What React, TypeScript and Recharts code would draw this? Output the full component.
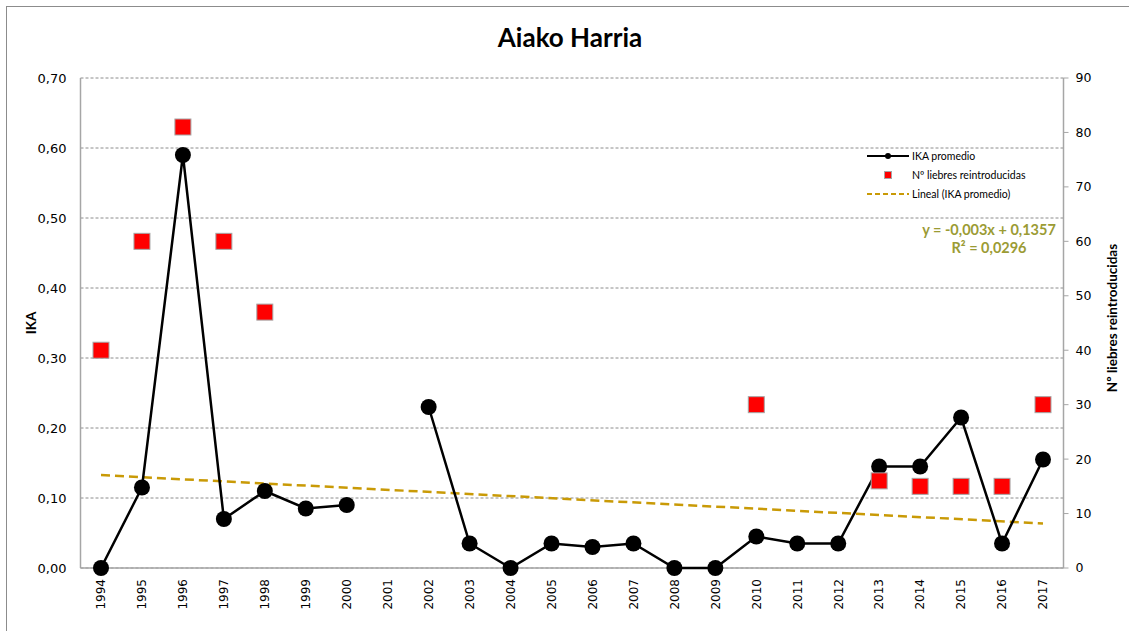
import React from 'react';
import { ComposedChart, Line, XAxis, YAxis, CartesianGrid, Legend } from 'recharts';

const years = ['1994','1995','1996','1997','1998','1999','2000','2001','2002','2003','2004','2005','2006','2007','2008','2009','2010','2011','2012','2013','2014','2015','2016','2017'];
const ika: (number | null)[] = [0, 0.115, 0.59, 0.07, 0.11, 0.085, 0.09, null, 0.23, 0.035, 0, 0.035, 0.03, 0.035, 0, 0, 0.045, 0.035, 0.035, 0.145, 0.145, 0.215, 0.035, 0.155];
const liebres: (number | null)[] = [40, 60, 81, 60, 47, null, null, null, null, null, null, null, null, null, null, null, 30, null, null, 16, 15, 15, 15, 30];
const trend: (number | null)[] = [0.1327, null, null, null, null, null, null, null, null, null, null, null, null, null, null, null, null, null, null, null, null, null, null, 0.0637];
const leftTicks = [0, 0.1, 0.2, 0.3, 0.4, 0.5, 0.6, 0.7];
const rightTicks = [0, 10, 20, 30, 40, 50, 60, 70, 80, 90];

const data = years.map((y, i) => ({ year: y, ika: ika[i], liebres: liebres[i], trend: trend[i] }));

const TREND_COLOR = '#C99A06';
const EQ_COLOR = '#9B9B34';
const CAL = 'Lato, "Open Sans", sans-serif';
const TICKF = '"DejaVu Sans", Verdana, sans-serif';

const XTick = (props: any) => {
  const { x, y, payload } = props;
  return (
    <text x={x} y={y} transform={`rotate(-90, ${x}, ${y})`} textAnchor="end" dy="0.36em" fontFamily={TICKF} fontSize={12} fill="#000">
      {payload.value}
    </text>
  );
};

const SquareDot = (props: any) => {
  const { cx, cy, value } = props;
  if (value == null || cy == null || isNaN(cy)) return <g key={props.index} />;
  return <rect key={props.index} x={cx - 8} y={cy - 8} width={16} height={16} fill="#FF0000" stroke="#A6A6A6" strokeWidth={1} />;
};

const BlackDot = (props: any) => {
  const { cx, cy, value } = props;
  if (value == null || cy == null || isNaN(cy)) return <g key={props.index} />;
  return <circle key={props.index} cx={cx} cy={cy} r={8} fill="#000" />;
};

const LegendBox = () => (
  <svg width={200} height={70} style={{ display: 'block', overflow: 'visible' }}>
    <line x1={2} y1={10} x2={44} y2={10} stroke="#000" strokeWidth={2} />
    <circle cx={23} cy={10} r={3} fill="#000" />
    <text x={47} y={10} dy="0.35em" fontFamily={CAL} fontSize={10.5} fill="#000">IKA promedio</text>
    <rect x={19.5} y={25.5} width={7} height={7} fill="#FF0000" stroke="#A6A6A6" strokeWidth={1} />
    <text x={47} y={29} dy="0.35em" fontFamily={CAL} fontSize={10.5} fill="#000">Nº liebres reintroducidas</text>
    <line x1={2} y1={48} x2={44} y2={48} stroke={TREND_COLOR} strokeWidth={2} strokeDasharray="5 3" />
    <text x={47} y={48} dy="0.35em" fontFamily={CAL} fontSize={10.5} fill="#000">Lineal (IKA promedio)</text>
  </svg>
);

export default function App() {
  return (
    <div style={{ position: 'absolute', left: 0, top: 0, width: 1129, height: 631, overflow: 'hidden', background: '#fff' }}>
      <div style={{ position: 'absolute', left: 6, top: 6, width: 1140, height: 640, border: '1px solid #8C8C8C' }} />
      <div style={{ position: 'absolute', left: 0, top: 0 }}>
        <ComposedChart width={1129} height={631} data={data} margin={{ top: 78, right: 0, bottom: 0, left: 0 }}>
          <text x={570} y={37} textAnchor="middle" dominantBaseline="central" fontFamily={CAL} fontWeight={700} fontSize={26} fill="#000">Aiako Harria</text>
          <CartesianGrid vertical={false} horizontal={true} stroke="#8C8C8C" strokeDasharray="3 2" yAxisId="left" />
          <CartesianGrid vertical={false} horizontal={true} horizontalPoints={[568]} stroke="#A6A6A6" strokeWidth={1.5} yAxisId="left" />
          <XAxis dataKey="year" height={63} interval={0} padding={{ left: 20.5, right: 20.5 }} tickLine={false} tickSize={5} tickMargin={6} tick={<XTick />} axisLine={false} />
          <YAxis yAxisId="left" orientation="left" width={80.5} domain={[0, 0.7]} ticks={leftTicks} interval={0}
            tickFormatter={(v: number) => v.toFixed(2).replace('.', ',')}
            tickLine={false} tickSize={8} tickMargin={6}
            tick={{ fontFamily: TICKF, fontSize: 13, fill: '#000' }}
            axisLine={{ stroke: '#A6A6A6', strokeWidth: 1.5 }}
            label={{ value: 'IKA', angle: -90, position: 'insideLeft', offset: 0, dx: 31, style: { fontFamily: CAL, fontWeight: 700, fontSize: 13.5, fill: '#000', textAnchor: 'middle' } }} />
          <YAxis yAxisId="right" orientation="right" width={65.5} domain={[0, 90]} ticks={rightTicks} interval={0}
            tickLine={{ stroke: '#A6A6A6', strokeWidth: 1 }} tickSize={5} tickMargin={7}
            tick={{ fontFamily: TICKF, fontSize: 12.5, fill: '#000' }}
            axisLine={{ stroke: '#A6A6A6', strokeWidth: 1.5 }}
            label={{ value: 'Nº liebres reintroducidas', angle: -90, position: 'insideRight', offset: 0, dx: -17, dy: -5, style: { fontFamily: CAL, fontWeight: 700, fontSize: 13.5, fill: '#000', textAnchor: 'middle' } }} />
          <Line yAxisId="left" dataKey="trend" connectNulls stroke={TREND_COLOR} strokeWidth={2.5} strokeDasharray="9 5" dot={false} activeDot={false} isAnimationActive={false} legendType="none" />
          <Line yAxisId="left" dataKey="ika" stroke="#000" strokeWidth={2.5} dot={<BlackDot />} activeDot={false} isAnimationActive={false} />
          <Line yAxisId="right" dataKey="liebres" stroke="none" dot={<SquareDot />} activeDot={false} isAnimationActive={false} />
          <text x={989} y={229} textAnchor="middle" dominantBaseline="central" fontFamily={CAL} fontWeight={700} fontSize={14.5} fill={EQ_COLOR}>y = -0,003x + 0,1357</text>
          <text x={989} y={247} textAnchor="middle" dominantBaseline="central" fontFamily={CAL} fontWeight={700} fontSize={14.5} fill={EQ_COLOR}>R² = 0,0296</text>
          <Legend layout="vertical" align="center" verticalAlign="middle" content={() => <LegendBox />}
            wrapperStyle={{ position: 'absolute', left: 865, top: 146, width: 200, height: 70 }} />
        </ComposedChart>
      </div>
    </div>
  );
}
